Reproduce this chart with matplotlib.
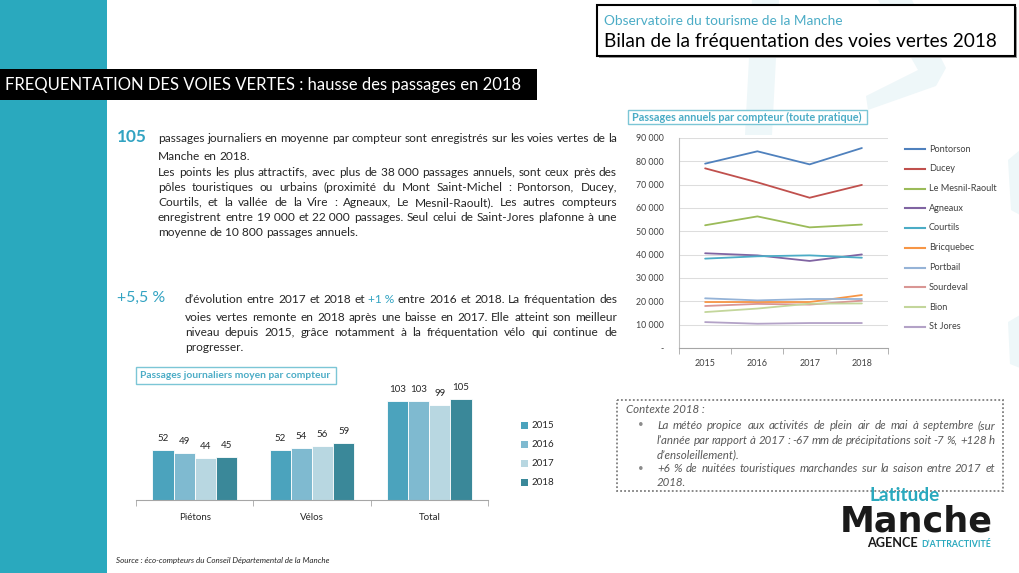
import matplotlib
matplotlib.use("Agg")
import matplotlib.pyplot as plt
from matplotlib.patches import Rectangle, Polygon
import numpy as np

# ---------------- data ----------------
years = ['2015', '2016', '2017', '2018']
counters = ['Pontorson', 'Ducey', 'Le Mesnil-Raoult', 'Agneaux', 'Courtils',
            'Bricquebec', 'Portbail', 'Sourdeval', 'Bion', 'St Jores']
pontorson = [79000, 84300, 78700, 85700]
ducey = [77000, 71000, 64400, 69900]
mesnil_raoult = [52600, 56400, 51700, 52900]
agneaux = [40600, 39700, 37300, 40100]
courtils = [38300, 39300, 39700, 38700]
bricquebec = [19700, 19700, 19700, 22700]
portbail = [21300, 20400, 21000, 21000]
sourdeval = [18000, 18900, 18600, 20300]
bion = [15400, 16900, 19000, 19100]
st_jores = [11100, 10400, 10700, 10700]
series = [pontorson, ducey, mesnil_raoult, agneaux, courtils,
          bricquebec, portbail, sourdeval, bion, st_jores]
line_colors = ['#4F81BD', '#C0504D', '#9BBB59', '#8064A2', '#4BACC6',
               '#F79646', '#95B3D7', '#D99694', '#C3D69B', '#B3A2C7']
y_ticks = [0, 10000, 20000, 30000, 40000, 50000, 60000, 70000, 80000, 90000]

bar_groups = ['Piétons', 'Vélos', 'Total']
bar_years = ['2015', '2016', '2017', '2018']
daily_2015 = [52, 52, 103]
daily_2016 = [49, 54, 103]
daily_2017 = [44, 56, 99]
daily_2018 = [45, 59, 105]
daily = [daily_2015, daily_2016, daily_2017, daily_2018]
bar_colors = ['#4BA3BD', '#7FBAD0', '#B8D7E1', '#3A8899']

# ---------------- figure ----------------
W, H = 1020, 573
FONT = 'Lato'
plt.rcParams['font.family'] = [FONT, 'DejaVu Sans']
TEAL = '#2AA9BE'
NUM_TEAL = '#32A3C2'
TXT = '#262626'

fig = plt.figure(figsize=(W / 100, H / 100), dpi=100)
bg = fig.add_axes([0, 0, 1, 1], zorder=0)
bg.set_xlim(0, W)
bg.set_ylim(H, 0)
bg.axis('off')
renderer = fig.canvas.get_renderer()


def px(l, t, r, b):
    return [l / W, 1 - b / H, (r - l) / W, (b - t) / H]


def width_of(t):
    return t.get_window_extent(renderer).width


def fit(x0, x1, y, s, size=10, va='center', **kw):
    t = bg.text(x0, y, s, fontsize=size, va=va, ha='left', **kw)
    t.set_fontsize(size * (x1 - x0) / width_of(t))
    return t


def justify_line(tokens, x0, x1, y, fs, just=True, **kw):
    texts = []
    for w, c in tokens:
        texts.append(bg.text(x0, y, w, fontsize=fs, color=c, va='baseline', ha='left', **kw))
    widths = [width_of(t) for t in texts]
    a = bg.text(0, 0, 'x x', fontsize=fs, **kw)
    b = bg.text(0, 0, 'xx', fontsize=fs, **kw)
    space = width_of(a) - width_of(b)
    a.remove(); b.remove()
    if just and len(texts) > 1:
        gap = (x1 - x0 - sum(widths)) / (len(texts) - 1)
    else:
        gap = space
    x = x0
    for t, w in zip(texts, widths):
        t.set_x(x)
        x += w + gap


def tok(line, color=TXT, highlight=(), hcolor=NUM_TEAL):
    return [(w, hcolor if w in highlight else color) for w in line.split(' ')]


def paragraph(lines, x0, x1, ys, fs, color=TXT, highlight=(), **kw):
    # ys are visual centres of lowercase text; convert to baselines
    for i, (ln, just) in enumerate(lines):
        justify_line(tok(ln, color, highlight), x0, x1, ys[i] + 3.8, fs, just, **kw)


# faint background watermark shapes
wm = '#EEF7F9'
for poly in [[(752, 0), (779, 0), (772, 135), (745, 135)],
             [(878, 0), (912, 0), (946, 68), (936, 86), (868, 110), (866, 96), (918, 70)],
             [(1008, 160), (1020, 150), (1020, 215), (1011, 210)],
             [(1008, 322), (1020, 315), (1020, 368), (1010, 364)]]:
    bg.add_patch(Polygon(poly, closed=True, color=wm, lw=0, zorder=0))

# left teal stripe
bg.add_patch(Rectangle((0, 0), 107, H, color=TEAL, lw=0, zorder=1))

# title bar
bg.add_patch(Rectangle((0, 69), 537, 31, color='black', lw=0, zorder=2))
fit(5, 520, 85, 'FREQUENTATION DES VOIES VERTES : hausse des passages en 2018',
    size=12, color='white', zorder=3)

# header box
bg.add_patch(Rectangle((599, 7), 418, 51, color='#9A9A9A', lw=0, zorder=2))
bg.add_patch(Rectangle((597, 5), 418, 51, facecolor='white', edgecolor='black', lw=1.5, zorder=3))
fit(604, 842, 21, 'Observatoire du tourisme de la Manche', size=10, color='#4BACC6', zorder=4)
fit(604, 998, 42, 'Bilan de la fréquentation des voies vertes 2018', size=14, color='black', zorder=4)

# ---------------- left text ----------------
fit(117, 147, 137, '105', size=13, color=NUM_TEAL, fontweight='bold')
p1 = [("passages journaliers en moyenne par compteur sont enregistrés sur les voies vertes de la", True),
      ("Manche en 2018.", False),
      ("Les points les plus attractifs, avec plus de 38\u00a0000 passages annuels, sont ceux près des", True),
      ("pôles touristiques ou urbains (proximité du Mont Saint-Michel : Pontorson, Ducey,", True),
      ("Courtils, et la vallée de la Vire : Agneaux, Le Mesnil-Raoult). Les autres compteurs", True),
      ("enregistrent entre 19\u00a0000 et 22\u00a0000 passages. Seul celui de Saint-Jores plafonne à une", True),
      ("moyenne de 10\u00a0800 passages annuels.", False)]
probe = bg.text(0, 0, p1[5][0], fontsize=10)
body_fs = 10 * (617 - 158) / width_of(probe) * 0.985
probe.remove()
paragraph(p1, 158, 617, [138, 156, 172, 187, 202, 217, 232], body_fs)

fit(117, 165, 298, '+5,5 %', size=13, color=NUM_TEAL)
p2 = [("d’évolution entre 2017 et 2018 et +1\u00a0% entre 2016 et 2018. La fréquentation des", True),
      ("voies vertes remonte en 2018 après une baisse en 2017. Elle atteint son meilleur", True),
      ("niveau depuis 2015, grâce notamment à la fréquentation vélo qui continue de", True),
      ("progresser.", False)]
paragraph(p2, 185, 617, [299, 317, 332, 347], body_fs, highlight=('+1\u00a0%',))

# ---------------- line chart ----------------
bg.add_patch(Rectangle((628, 110), 239, 14, facecolor='white', edgecolor='#7CC6D6', lw=1, zorder=2))
fit(632, 863, 117, 'Passages annuels par compteur (toute pratique)', size=8,
    color='#4BACC6', fontweight='bold', zorder=3)

axl = fig.add_axes(px(679, 138, 888, 348), zorder=2)
axl.set_facecolor('none')
xs = np.arange(len(years))
for vals, col in zip(series, line_colors):
    axl.plot(xs, vals, color=col, lw=1.3, solid_capstyle='round')
axl.set_xlim(-0.5, len(years) - 0.5)
axl.set_ylim(0, 90000)
axl.set_yticks(y_ticks)
axl.set_yticklabels(['-' if v == 0 else f'{v:,}'.replace(',', ' ') for v in y_ticks],
                    fontsize=6.3, color='#404040')
axl.tick_params(axis='y', length=0, pad=11)
axl.set_xticks(xs)
axl.set_xticklabels(years, fontsize=6.5, color='#404040')
axl.set_xticks(np.arange(-0.5, len(years)), minor=True)
axl.tick_params(axis='x', which='major', length=0, pad=8)
axl.tick_params(axis='x', which='minor', length=4, color='#A6A6A6', direction='out')
axl.grid(axis='y', color='#DDDDDD', lw=0.75)
axl.set_axisbelow(True)
for s in ['top', 'right']:
    axl.spines[s].set_visible(False)
axl.spines['left'].set_color('#BFBFBF')
axl.spines['bottom'].set_color('#A6A6A6')

# manual legend
for i, (name, col) in enumerate(zip(counters, line_colors)):
    y = 149 + 19.75 * i
    bg.plot([905, 925], [y, y], color=col, lw=1.5, zorder=3)
    bg.text(929, y, name, fontsize=6.6, color='#404040', va='center', ha='left', zorder=3)

# ---------------- bar chart ----------------
bg.add_patch(Rectangle((136, 367), 200, 17, facecolor='white', edgecolor='#7CC6D6', lw=1, zorder=2))
fit(140, 332, 375.5, 'Passages journaliers moyen par compteur', size=8,
    color='#4BACC6', fontweight='bold', zorder=3)

axb = fig.add_axes(px(136, 380, 488, 500), zorder=2)
axb.set_facecolor('none')
gx = np.arange(len(bar_groups))
bw = 0.18
for i, (vals, col) in enumerate(zip(daily, bar_colors)):
    pos = gx + (i - 1.5) * bw
    axb.bar(pos, vals, bw, color=col, edgecolor='white', lw=0.6)
    for x, v in zip(pos, vals):
        axb.annotate(str(v), (x, v), xytext=(0, 8), textcoords='offset points',
                     ha='center', va='center', fontsize=7, color='#262626')
axb.set_xlim(-0.5, len(bar_groups) - 0.5)
axb.set_ylim(0, 124.4)
axb.set_yticks([])
axb.set_xticks(gx)
axb.set_xticklabels(bar_groups, fontsize=7, color='#262626')
axb.set_xticks(np.arange(-0.5, len(bar_groups)), minor=True)
axb.tick_params(axis='x', which='major', length=0, pad=9)
axb.tick_params(axis='x', which='minor', length=4, color='#A6A6A6', direction='out')
for s in ['top', 'right', 'left']:
    axb.spines[s].set_visible(False)
axb.spines['bottom'].set_color('#A6A6A6')

for i, (yr, col) in enumerate(zip(bar_years, bar_colors)):
    y = 425 + 19.3 * i
    bg.add_patch(Rectangle((521, y - 3.5), 7, 7, color=col, lw=0, zorder=3))
    bg.text(532, y, yr, fontsize=7, color='#262626', va='center', ha='left', zorder=3)

# ---------------- context box ----------------
bg.add_patch(Rectangle((617, 400), 386, 91, fill=False, edgecolor='#7F7F7F',
                       lw=1.3, ls=(0, (1, 1.2)), zorder=2))
CTX = '#595959'
ctx_fs = body_fs * 0.97
bg.text(626, 409 + 3.8, 'Contexte 2018 :', fontsize=ctx_fs, color=CTX, style='italic',
        va='baseline', ha='left')
ctx_lines = [("La météo propice aux activités de plein air de mai à septembre (sur", True),
             ("l’année par rapport à 2017 : -67 mm de précipitations soit -7 %, +128 h", True),
             ("d’ensoleillement).", False),
             ("+6 % de nuitées touristiques marchandes sur la saison entre 2017 et", True),
             ("2018.", False)]
paragraph(ctx_lines, 657, 995, [425, 440, 454, 468, 482], ctx_fs, color=CTX, style='italic')
for y in (425, 468):
    bg.text(641, y, '•', fontsize=7, color='#8C8C8C', va='center', ha='center')

# ---------------- logo ----------------
fit(840, 993, 531, 'Manche', size=24, va='baseline', color='#1A1A1A', fontweight='bold',
    family='DejaVu Sans')
fit(870, 940, 501, 'Latitude', size=11, va='baseline', color=TEAL, fontweight='bold')
fit(867, 918, 547, 'AGENCE', size=6, va='baseline', color='#1A1A1A', fontweight='bold')
fit(921, 991, 547, 'D’ATTRACTIVITÉ', size=6, va='baseline', color=TEAL, fontweight='bold')

# ---------------- source ----------------
bg.text(116, 561, 'Source : éco-compteurs du Conseil Départemental de la Manche',
        fontsize=5.8, style='italic', color='#262626', va='center', ha='left')

fig.savefig('out.png', dpi=100)
